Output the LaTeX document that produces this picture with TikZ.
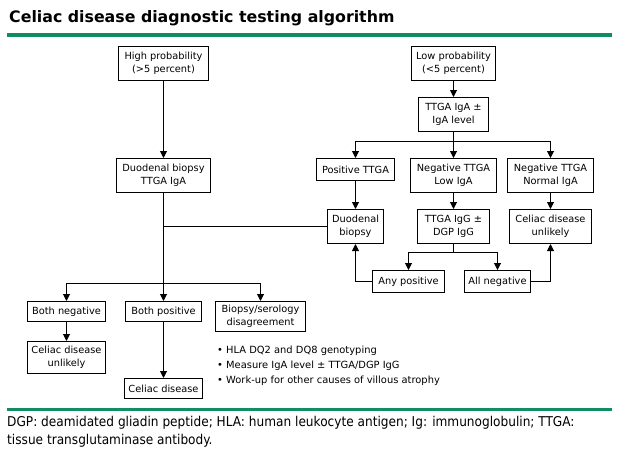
\documentclass[tikz,border=0pt]{standalone}
\usepackage{fontspec}
\setmainfont{DejaVu Sans}
\newfontfamily\notefont{DejaVu Sans Condensed}
\usetikzlibrary{arrows.meta}
\definecolor{hdrgreen}{RGB}{16,142,98}
\begin{document}
\begin{tikzpicture}[x=1pt,y=-1pt,
  box/.style={draw, line width=1pt, align=center, inner sep=0pt,
    font=\fontsize{9.8}{12.8}\selectfont},
  arr/.style={line width=1pt, -{Triangle[length=7pt,width=7pt]}},
  ln/.style={line width=1pt},
  txt/.style={anchor=base west, inner sep=0pt, font=\fontsize{9.9}{12.5}\selectfont}]
\useasboundingbox[fill=white] (0,0) rectangle (623,455);
% title and rules
\node[anchor=base west, inner sep=0pt, font=\fontsize{15.8}{18}\selectfont\bfseries] (title) at (9,22.5) {Celiac disease diagnostic testing algorithm};
\fill[hdrgreen] (7,32.5) rectangle (612,36.5);
\fill[hdrgreen] (7,407.5) rectangle (612,410.5);
% nodes
\node[box, minimum width=90, minimum height=34] (hp) at (163.5,63.5) {High probability\\(>5 percent)};
\node[box, minimum width=84, minimum height=34] (lp) at (453.5,63.5) {Low probability\\(<5 percent)};
\node[box, minimum width=70, minimum height=34] (tig) at (453.5,114.5) {TTGA IgA ±\\IgA level};
\node[box, minimum width=94, minimum height=34] (dbl) at (163.5,175.5) {Duodenal biopsy\\TTGA IgA};
\node[box, minimum width=78, minimum height=22] (pos) at (355.5,169.5) {Positive TTGA};
\node[box, minimum width=86, minimum height=34] (nlow) at (453.5,175.5) {Negative TTGA\\Low IgA};
\node[box, minimum width=86, minimum height=34] (nnorm) at (550.5,175.5) {Negative TTGA\\Normal IgA};
\node[box, minimum width=56, minimum height=34] (dbr) at (355.5,226.5) {Duodenal\\biopsy};
\node[box, minimum width=72, minimum height=34] (igg) at (453.5,226.5) {TTGA IgG ±\\DGP IgG};
\node[box, minimum width=82, minimum height=34] (cur) at (550.5,226.5) {Celiac disease\\unlikely};
\node[box, minimum width=72, minimum height=22] (anyp) at (408.5,281.5) {Any positive};
\node[box, minimum width=66, minimum height=22] (alln) at (497.5,281.5) {All negative};
\node[box, minimum width=78, minimum height=20] (bneg) at (66.5,311.5) {Both negative};
\node[box, minimum width=76, minimum height=20] (bpos) at (163.5,311.5) {Both positive};
\node[box, minimum width=90, minimum height=30] (bdis) at (260.5,316.5) {Biopsy/serology\\disagreement};
\node[box, minimum width=78, minimum height=32] (cul) at (66.5,357.5) {Celiac disease\\unlikely};
\node[box, minimum width=78, minimum height=20] (cd) at (163.5,388.5) {Celiac disease};
% bullets
\node[txt] (b1) at (217,353.5) {\textbullet\ HLA DQ2 and DQ8 genotyping};
\node[txt] (b2) at (217,368.5) {\textbullet\ Measure IgA level ± TTGA/DGP IgG};
\node[txt] (b3) at (217,383.5) {\textbullet\ Work-up for other causes of villous atrophy};
% footnote
\node[anchor=base west, inner sep=0pt, font=\notefont\fontsize{13.5}{17}\selectfont] (fn1) at (7,426.5) {DGP: deamidated gliadin peptide; HLA: human leukocyte antigen; Ig: immunoglobulin; TTGA:};
\node[anchor=base west, inner sep=0pt, font=\notefont\fontsize{13.5}{17}\selectfont] (fn2) at (7,444) {tissue transglutaminase antibody.};
% junction coordinates
\coordinate (jtop) at (453.5,141.5);
\coordinate (jbot) at (453.5,252.5);
\coordinate (jleft) at (163.5,283.5);
% connectors: left side
\draw[arr] (hp.south) -- (dbl.north);
\draw[arr] (dbl.south) -- (bpos.north);
\draw[ln] (dbr.west) -- (dbr.west -| dbl.south);
\draw[arr] (jleft) -| (bneg.north);
\draw[arr] (jleft) -| (bdis.north);
\draw[arr] (bneg.south) -- (cul.north);
\draw[arr] (bpos.south) -- (cd.north);
% connectors: right side
\draw[arr] (lp.south) -- (tig.north);
\draw[arr] (tig.south) -- (nlow.north);
\draw[arr] (jtop) -| (pos.north);
\draw[arr] (jtop) -| (nnorm.north);
\draw[arr] (pos.south) -- (dbr.north);
\draw[arr] (nlow.south) -- (igg.north);
\draw[arr] (nnorm.south) -- (cur.north);
\draw[ln] (igg.south) -- (jbot);
\draw[arr] (jbot) -| (anyp.north);
\draw[arr] (jbot) -| (alln.north);
\draw[arr] (anyp.west) -| (dbr.south);
\draw[arr] (alln.east) -| (cur.south);
\end{tikzpicture}
\end{document}
